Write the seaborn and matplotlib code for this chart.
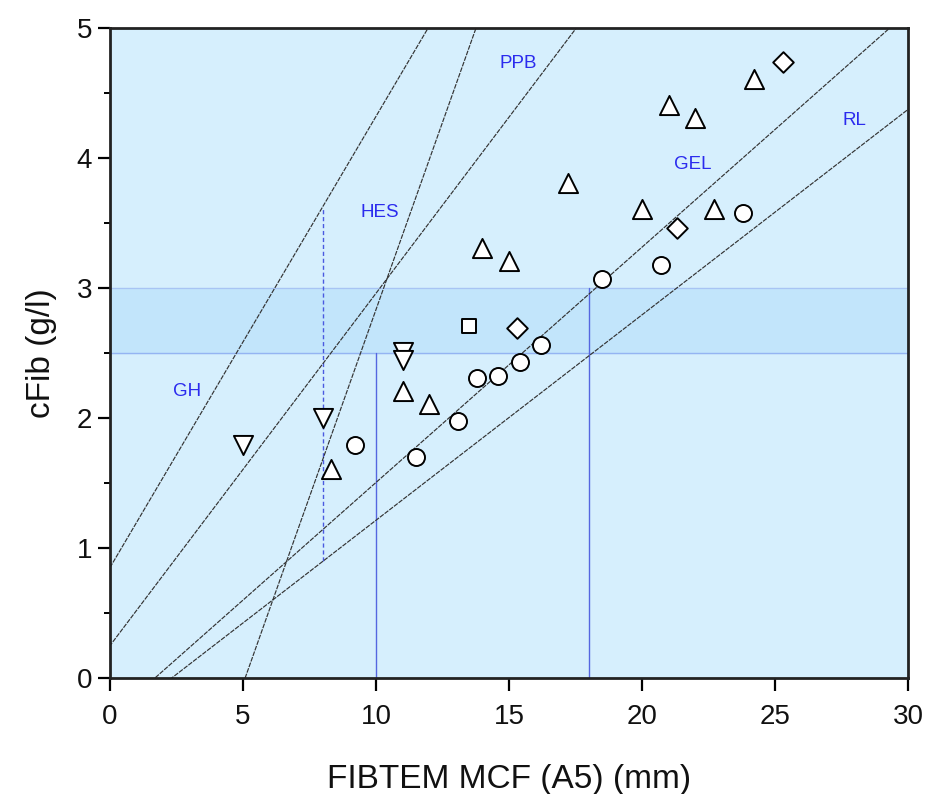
import numpy as np
import pandas as pd
import matplotlib
matplotlib.use("Agg")
import matplotlib.pyplot as plt
import seaborn as sns

# ---- data ----
circle_x = [9.2, 11.5, 13.1, 13.8, 14.6, 15.4, 16.2, 18.5, 20.7, 23.8]
circle_y = [1.79, 1.70, 1.98, 2.31, 2.32, 2.43, 2.56, 3.07, 3.18, 3.58]
up_x = [8.3, 11.0, 12.0, 14.0, 15.0, 17.2, 20.0, 21.0, 22.0, 22.7, 24.2]
up_y = [1.61, 2.21, 2.11, 3.31, 3.21, 3.81, 3.61, 4.41, 4.31, 3.61, 4.61]
down_x = [5.0, 8.0, 11.0, 11.0]
down_y = [1.79, 2.00, 2.51, 2.45]
diamond_x = [15.3, 21.3, 25.3]
diamond_y = [2.69, 3.46, 4.74]
square_x = [13.5]
square_y = [2.71]

# reference lines: y = slope * (x - x0)
line_names = ["GH", "PPB", "HES", "GEL", "RL"]
line_slopes = [0.347, 0.271, 0.576, 0.181, 0.158]
line_x0 = [-2.45, -0.92, 5.08, 1.69, 2.32]

label_text = ["GH", "HES", "PPB", "GEL", "RL"]
label_x = [2.9, 10.15, 15.35, 21.9, 28.0]
label_y = [2.2, 3.58, 4.73, 3.95, 4.29]

x_ticks = [0, 5, 10, 15, 20, 25, 30]
y_ticks = [0, 1, 2, 3, 4, 5]

sns.set_theme(style="white")
plt.rcParams["font.family"] = ["Liberation Sans", "DejaVu Sans"]

fig = plt.figure(figsize=(9.3, 7.94), dpi=100)
ax = fig.add_axes([110 / 930, 1 - 678 / 794, 798 / 930, 650 / 794])
ax.set_facecolor("#d6effd")

ax.set_xlim(0, 30)
ax.set_ylim(0, 5)

# band
ax.axhspan(2.5, 3.0, color="#c2e5fb", zorder=0)
ax.axhline(2.5, color="#94b4f2", lw=1.0, zorder=1)
ax.axhline(3.0, color="#a8c4f4", lw=0.9, zorder=1)

# vertical guide lines
ax.plot([10, 10], [0, 2.5], color="#5566e0", lw=1.0, zorder=1)
ax.plot([18, 18], [0, 3.0], color="#5566e0", lw=1.0, zorder=1)
def line_y(i, x):
    return line_slopes[i] * (x - line_x0[i])
ax.plot([8, 8], [line_y(4, 8), line_y(0, 8)], color="#4a5ae0", lw=1.0,
        ls=(0, (3, 2)), zorder=1)

# reference lines
xs = np.array([-5.0, 35.0])
for i in range(len(line_names)):
    ax.plot(xs, line_y(i, xs), color="#333333", lw=0.85, ls=(0, (4, 1)), zorder=2)

# markers
groups = [
    ("circle", circle_x, circle_y, "o", 150),
    ("up", up_x, up_y, "^", 190),
    ("down", down_x, down_y, "v", 190),
    ("diamond", diamond_x, diamond_y, "D", 110),
    ("square", square_x, square_y, "s", 100),
]
for name, gx, gy, m, s in groups:
    df = pd.DataFrame({"x": gx, "y": gy})
    sns.scatterplot(data=df, x="x", y="y", marker=m, s=s, color="white",
                    edgecolor="black", linewidth=1.4, ax=ax, zorder=3)

for t, lx, ly in zip(label_text, label_x, label_y):
    ax.text(lx, ly, t, color="#2b2bee", fontsize=13.5, ha="center", va="center",
            zorder=4)

ax.set_xticks(x_ticks)
ax.set_yticks(y_ticks)
ax.set_yticks(np.arange(0.5, 5, 1.0), minor=True)
ax.tick_params(axis="both", which="major", direction="out", length=9, width=1.6,
               labelsize=20, color="black", labelcolor="#111111", pad=4,
               bottom=True, left=True)
ax.tick_params(axis="x", which="major", pad=10)
ax.tick_params(axis="y", which="minor", direction="out", length=4.5, width=1.4,
               color="black", left=True)
for sp in ax.spines.values():
    sp.set_visible(True)
    sp.set_color("#222222")
    sp.set_linewidth(2.0)

ax.set_xlabel("FIBTEM MCF (A5) (mm)", fontsize=24, labelpad=24, color="#111111")
ax.set_ylabel("cFib (g/l)", fontsize=24, labelpad=14, color="#111111")

fig.savefig("out.png", dpi=100)
